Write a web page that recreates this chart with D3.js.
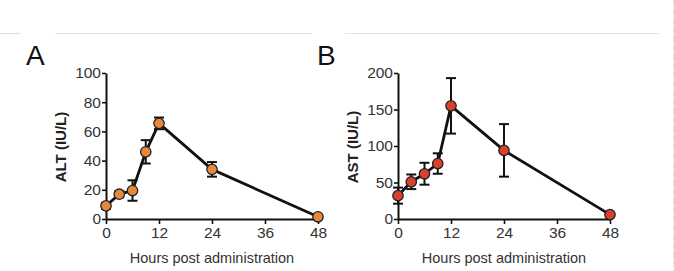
<!DOCTYPE html>
<html>
<head>
<meta charset="utf-8">
<script src="https://cdn.jsdelivr.net/npm/d3@7"></script>
<style>
  body { margin: 0; background: #fff; }
  svg { display: block; font-family: "Liberation Sans", Arial, sans-serif; }
</style>
</head>
<body>
<div id="fig"></div>
<script>
// data
var hours = [0, 3, 6, 9, 12, 24, 48];
var altMean = [9, 17, 19.5, 46, 65.5, 34, 1.5];
var altErr = [2, 2, 7, 8, 4, 5, 1];
var astMean = [32, 51, 62, 76, 155, 94, 6];
var astErr = [11, 10, 15, 14, 38, 36, 2];
var xTicks = [0, 12, 24, 36, 48];
var altTicks = [0, 20, 40, 60, 80, 100];
var astTicks = [0, 50, 100, 150, 200];

var W = 674, H = 271;

var svg = d3.select("#fig")
  .append("svg")
    .attr("width", W)
    .attr("height", H);

// faint page decorations
var deco = svg.append("g").attr("stroke", "#e2e2e2").attr("stroke-width", 1.2);
[[0, 20], [55, 312], [345, 659]].forEach(function(s) {
  deco.append("line").attr("x1", s[0]).attr("x2", s[1]).attr("y1", 33.5).attr("y2", 33.5);
});
svg.append("line")
  .attr("x1", 673.5).attr("x2", 673.5).attr("y1", 0).attr("y2", H)
  .attr("stroke", "#e8e8e8").attr("stroke-dasharray", "6,3");

function panel(opts) {
  var g = svg.append("g");

  var x = d3.scaleLinear().domain([0, 48]).range([opts.left, opts.left + 212]);
  var y = d3.scaleLinear().domain([0, opts.ymax]).range([219, 73]);

  // panel letter
  g.append("text")
    .attr("x", opts.letterX).attr("y", 65)
    .attr("font-size", 28)
    .attr("fill", "#111")
    .text(opts.letter);

  // x axis
  var xa = g.append("g")
    .attr("transform", "translate(0,219)")
    .call(d3.axisBottom(x).tickValues(xTicks).tickSize(5).tickSizeOuter(0).tickPadding(3));
  // y axis
  var ya = g.append("g")
    .attr("transform", "translate(" + opts.left + ",0)")
    .call(d3.axisLeft(y).tickValues(opts.ticks).tickSize(4).tickSizeOuter(0).tickPadding(1));

  [xa, ya].forEach(function(a) {
    a.select(".domain").attr("stroke", "#111").attr("stroke-width", 2);
    a.selectAll(".tick line").attr("stroke", "#111").attr("stroke-width", 1.6);
    a.selectAll(".tick text")
      .attr("font-size", 15.5)
      .attr("fill", "#333")
      .attr("font-family", "Liberation Sans, Arial, sans-serif");
  });

  // axis titles
  g.append("text")
    .attr("x", x(24)).attr("y", 263)
    .attr("text-anchor", "middle")
    .attr("font-size", 14.5)
    .attr("fill", "#333")
    .text("Hours post administration");

  g.append("text")
    .attr("transform", "translate(" + opts.titleX + "," + 147 + ") rotate(-90)")
    .attr("text-anchor", "middle")
    .attr("font-size", 15)
    .attr("font-weight", "bold")
    .attr("fill", "#222")
    .text(opts.title);

  var rows = hours.map(function(h, i) {
    return {h: h, m: opts.mean[i], e: opts.err[i]};
  });

  // error bars
  var eb = g.append("g").attr("stroke", "#111").attr("stroke-width", 2);
  rows.forEach(function(d) {
    eb.append("line")
      .attr("x1", x(d.h)).attr("x2", x(d.h))
      .attr("y1", y(d.m - d.e)).attr("y2", y(d.m + d.e));
    [d.m - d.e, d.m + d.e].forEach(function(v) {
      eb.append("line")
        .attr("x1", x(d.h) - 5).attr("x2", x(d.h) + 5)
        .attr("y1", y(v)).attr("y2", y(v));
    });
  });

  // mean line
  g.append("path")
    .datum(rows)
    .attr("fill", "none")
    .attr("stroke", "#111")
    .attr("stroke-width", 2.8)
    .attr("stroke-linejoin", "round")
    .attr("d", d3.line()
      .x(function(d) { return x(d.h); })
      .y(function(d) { return y(d.m); }));

  // points
  g.selectAll("circle")
    .data(rows)
    .enter()
    .append("circle")
      .attr("cx", function(d) { return x(d.h); })
      .attr("cy", function(d) { return y(d.m); })
      .attr("r", 5.2)
      .attr("fill", opts.color)
      .attr("stroke", "#222")
      .attr("stroke-width", 1.3);
}

panel({left: 106, ymax: 100, ticks: altTicks, mean: altMean, err: altErr,
       color: "#e8893a", letter: "A", letterX: 26, title: "ALT (IU/L)", titleX: 66});
panel({left: 398, ymax: 200, ticks: astTicks, mean: astMean, err: astErr,
       color: "#d8412e", letter: "B", letterX: 317, title: "AST (IU/L)", titleX: 358});
</script>
</body>
</html>
